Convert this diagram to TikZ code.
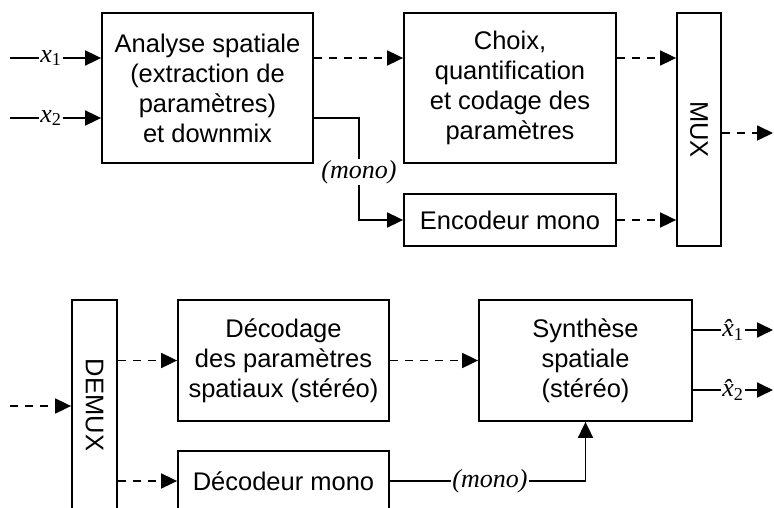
\documentclass[tikz,border=0pt]{standalone}
\usepackage{fontspec}
\setmainfont{Liberation Sans}
\newfontfamily\lblfont{Liberation Serif}
\usetikzlibrary{arrows.meta}
\newcommand\sig[2]{{\lblfont\itshape #1}\textsubscript{\lblfont\upshape #2}}
\tikzset{
  blk/.style={draw, line width=1.8pt, align=center, inner sep=0pt,
    font=\fontsize{25.5}{30}\selectfont},
  flow/.style={line width=1.8pt, -{Triangle[length=16pt,width=15pt]}},
  dflow/.style={flow, dash pattern=on 8pt off 7pt},
  lab/.style={fill=white, inner sep=1pt, font=\fontsize{26}{29}\lblfont\itshape},
}
\begin{document}
\begin{tikzpicture}[x=1pt, y=-1pt]
\useasboundingbox (0,0) rectangle (774,508);
\clip (0,0) rectangle (774,508);

% ---- encoder ----
\node[blk, minimum width=211, minimum height=150] (ana) at (207.5,88)
  {Analyse spatiale\\(extraction de\\paramètres)\\et downmix};
\node[blk, minimum width=212, minimum height=150] (cho) at (510,88)
  {Choix,\\quantification\\et codage des\\paramètres};
\node[blk, minimum width=212, minimum height=52] (enc) at (510,220)
  {Encodeur mono};
\node[blk, minimum width=44, minimum height=233] (mux) at (699,129.5) {};
\node[rotate=-90, font=\fontsize{25.5}{30}\selectfont] at (mux) {MUX};

\coordinate (x1) at (10,58);
\coordinate (x2) at (10,118);
\coordinate (bend) at (359,0);
\coordinate (out) at (773,133);

\draw[flow] (x1) -- (ana.west |- x1)
  node[lab, pos=0.45] {\sig{x}{1}};
\draw[flow] (x2) -- (ana.west |- x2)
  node[lab, pos=0.45] {\sig{x}{2}};
\draw[dflow] (ana.east |- x1) -- (cho.west |- x1);
\draw[dflow] (cho.east |- x1) -- (mux.west |- x1);
\draw[flow] (ana.east |- x2) -- (bend |- x2) -- (bend |- enc.west) -- (enc.west);
\node[lab] at (359,172) {(mono)};
\draw[dflow] (enc.east) -- (mux.west |- enc.east);
\draw[dflow] (mux.east |- out) -- (out);

% ---- decoder ----
\node[blk, minimum width=45, minimum height=210] (demux) at (94.5,405) {};
\node[rotate=-90, font=\fontsize{25.5}{30}\selectfont] at (demux) {DEMUX};
\node[blk, minimum width=211, minimum height=60] (decm) at (283.5,481)
  {Décodeur mono};
\node[blk, minimum width=211, minimum height=121] (dec) at (283.5,360.5)
  {Décodage\\des paramètres\\spatiaux (stéréo)};
\node[blk, minimum width=213, minimum height=121] (syn) at (585.5,360.5)
  {Synthèse\\spatiale\\(stéréo)};

\coordinate (in) at (10,406);
\coordinate (o1) at (773,330);
\coordinate (o2) at (773,390);

\draw[dflow] (in) -- (demux.west |- in);
\draw[dflow] (demux.east |- dec.west) -- (dec.west);
\draw[dflow] (demux.east |- decm.west) -- (decm.west);
\draw[dflow] (dec.east) -- (syn.west);
\draw[flow] (decm.east) -| (syn.south);
\node[lab] at (490,481) {(mono)};
\draw[flow] (syn.east |- o1) -- (o1)
  node[lab, pos=0.5] {\sig{\^{x}}{1}};
\draw[flow] (syn.east |- o2) -- (o2)
  node[lab, pos=0.5] {\sig{\^{x}}{2}};
\end{tikzpicture}
\end{document}
